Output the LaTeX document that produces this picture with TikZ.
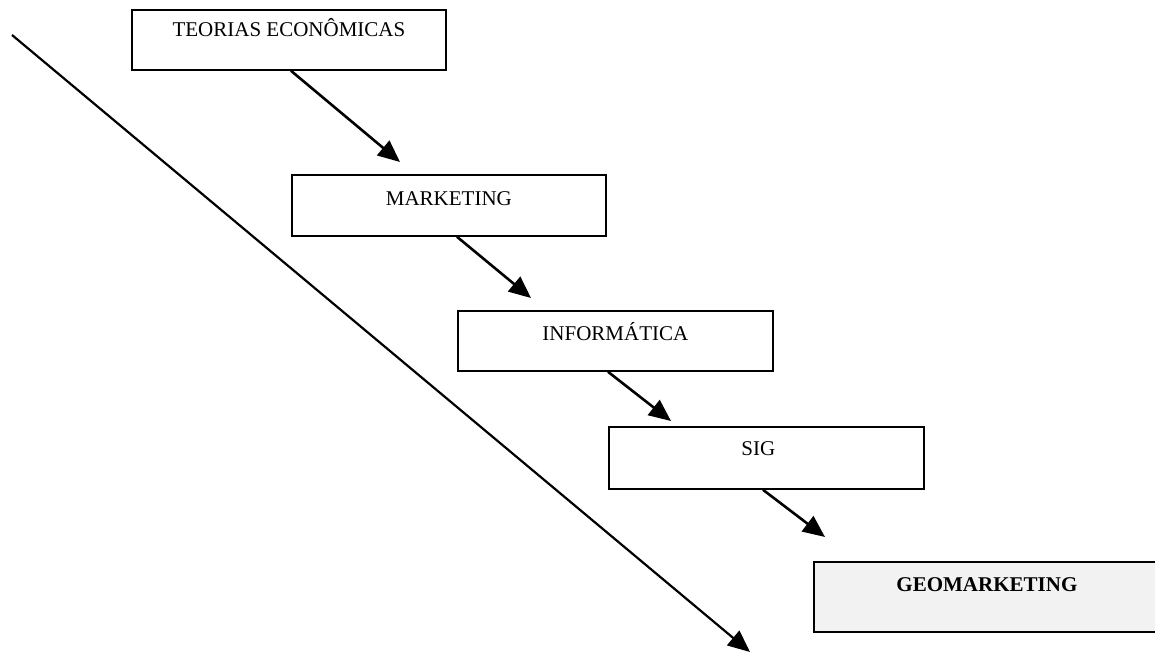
\documentclass[tikz,border=0pt]{standalone}
\usepackage{fontspec}
\setmainfont{Liberation Serif}
\usetikzlibrary{arrows.meta}
\definecolor{lightfill}{HTML}{F2F2F2}
\begin{document}
\begin{tikzpicture}[x=1pt,y=-1pt,
  stagebox/.style={draw=black, line width=1.8pt, rectangle, anchor=north west,
    inner sep=0pt, fill=white},
  stagetext/.style={font=\fontsize{21}{25}\selectfont, anchor=base},
  flow/.style={line width=2.6pt, -{Triangle[length=22pt,width=19pt]}},
  timeline/.style={line width=2.2pt, -{Triangle[length=22pt,width=19pt]}}]
  \useasboundingbox (0,0) rectangle (1155,655);

  % stage boxes
  \node[stagebox, minimum width=314pt, minimum height=60pt] (b1) at (131,9) {};
  \node[stagebox, minimum width=314pt, minimum height=61pt] (b2) at (291,174) {};
  \node[stagebox, minimum width=315pt, minimum height=60pt] (b3) at (457,310) {};
  \node[stagebox, minimum width=315pt, minimum height=62pt] (b4) at (608,426) {};
  \node[stagebox, fill=lightfill, minimum width=346pt, minimum height=70pt] (b5) at (813,561) {};

  % box captions
  \node[stagetext] (t1) at ([yshift=-28pt]b1.north) {TEORIAS ECONÔMICAS};
  \node[stagetext] (t2) at ([yshift=-31pt]b2.north) {MARKETING};
  \node[stagetext] (t3) at ([yshift=-30pt]b3.north) {INFORMÁTICA};
  \node[stagetext] (t4) at ([xshift=-8pt,yshift=-29pt]b4.north) {SIG};
  \node[stagetext, font=\fontsize{21}{25}\selectfont\bfseries] (t5) at ([yshift=-30pt]b5.north) {GEOMARKETING};

  % arrow tips between stages
  \coordinate (p1) at (400,162);
  \coordinate (p2) at (531,298);
  \coordinate (p3) at (671,421);
  \coordinate (p4) at (825,537);
  \draw[flow] (b2.west |- b1.south) -- (p1);
  \draw[flow] (b3.west |- b2.south) -- (p2);
  \draw[flow] (b4.west |- b3.south) -- (p3);
  \draw[flow] ([xshift=-50pt]b5.west |- b4.south) -- (p4);

  % long diagonal time arrow
  \coordinate (s0) at (12,35);
  \coordinate (s1) at (750,652);
  \draw[timeline] (s0) -- (s1);
\end{tikzpicture}
\end{document}
